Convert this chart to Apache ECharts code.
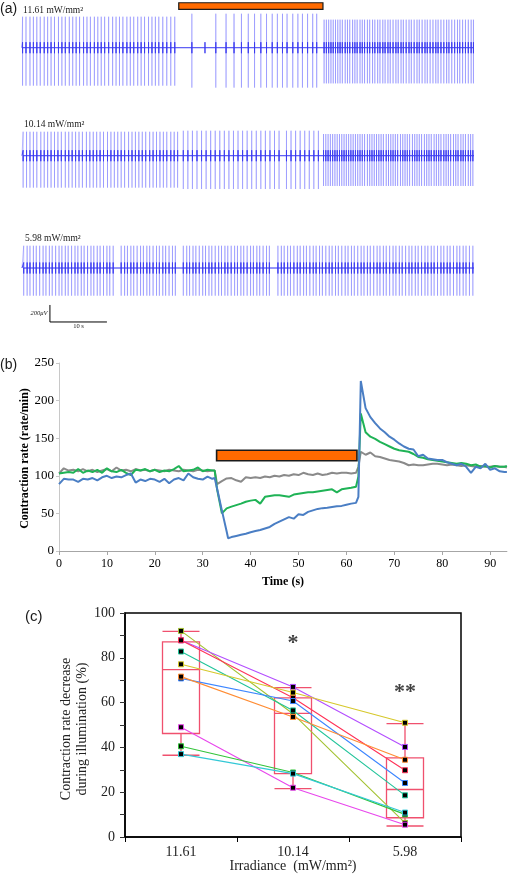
<!DOCTYPE html>
<html><head><meta charset="utf-8">
<script src="https://cdn.jsdelivr.net/npm/echarts@6/dist/echarts.min.js"></script>
<style>html,body{margin:0;padding:0;background:#fff}#c{width:509px;height:874px}</style>
</head><body><div id="c"></div>
<script>
// ================= Panel (a): extracellular recordings =================
const traceLabels = ['11.61 mW/mm²', '10.14 mW/mm²', '5.98 mW/mm²'];
const illumA = [27.5, 52.8];          // illumination window (s) in panel (a)
const illumBarUV = [452, 529];        // orange bar vertical extent (µV above baseline of trace 1)
const traceEnd = 79.3;                // recording length (s)
const scaleBarUV = 200, scaleBarS = 10;
const scaleBarOrigin = [4.9, -435];   // (s, µV) top of the vertical scale bar, trace 3 frame

const trace1Spikes = [0.1,0.7,1.4,2.0,2.6,3.2,3.9,4.5,5.1,5.7,6.4,7.0,7.6,8.3,8.9,9.5,10.1,10.8,11.4,12.0,12.7,13.3,13.9,14.5,15.2,15.9,16.5,17.1,17.7,18.4,19.0,19.6,20.3,20.9,21.5,22.2,22.8,23.4,24.0,24.7,25.4,26.1,26.8,
  29.8,34.0,35.8,37.2,38.5,39.7,40.8,41.9,42.9,43.9,44.8,45.7,46.5,47.5,48.4,49.2,50.1,51.0,51.7,
  53.0,53.4,53.8,54.2,54.6,55.0,55.4,55.8,56.2,56.7,57.1,57.5,58.0,58.4,58.8,59.3,59.7,60.1,60.6,61.0,61.5,61.9,62.4,62.8,63.3,63.7,64.2,64.6,65.1,65.6,66.0,66.5,66.9,67.4,67.9,68.3,68.8,69.3,69.7,70.2,70.7,71.1,71.6,72.1,72.6,73.0,73.5,74.0,74.5,74.9,75.4,75.9,76.4,76.8,77.3,77.8,78.3,78.8,79.2];
const trace1Minor = [32.1];
const trace2Spikes = [0.2,0.8,1.4,2.0,2.6,3.3,3.9,4.5,5.1,5.7,6.3,6.9,7.6,8.2,8.8,9.4,10.0,10.6,11.3,11.9,12.5,13.1,13.7,14.3,15.0,15.6,16.2,16.8,17.4,18.0,18.7,19.3,19.9,20.5,21.1,21.7,22.4,23.0,23.6,24.2,24.8,25.4,26.1,26.7,27.3,
  28.3,29.1,29.9,30.7,31.5,32.3,33.1,33.9,34.7,35.5,36.3,37.1,37.9,38.7,39.5,40.3,41.1,41.9,42.7,43.5,44.3,45.1,46.4,47.2,48.0,48.8,49.6,50.4,51.2,52.0,
  52.9,53.3,53.7,54.1,54.5,54.9,55.3,55.7,56.1,56.5,56.9,57.3,57.7,58.1,58.5,58.9,59.3,59.7,60.1,60.6,61.0,61.4,61.8,62.2,62.6,63.0,63.4,63.9,64.3,64.7,65.1,65.5,65.9,66.4,66.8,67.2,67.6,68.0,68.5,68.9,69.3,69.7,70.1,70.6,71.0,71.4,71.8,72.3,72.7,73.1,73.5,74.0,74.4,74.8,75.2,75.7,76.1,76.5,77.0,77.4,77.8,78.3,78.7,79.1];
const trace3Spikes = [0.3,0.9,1.4,2.0,2.5,3.1,3.7,4.2,4.8,5.3,5.9,6.5,7.0,7.6,8.1,8.7,9.3,9.8,10.4,10.9,11.5,12.1,12.6,13.2,13.7,14.3,14.9,15.4,16.0,17.4,18.0,18.5,19.1,19.6,20.2,20.8,21.3,21.9,22.4,23.0,23.6,24.1,24.7,25.2,25.8,26.4,26.9,28.3,28.9,29.4,30.0,30.5,31.1,31.7,32.2,32.8,33.3,33.9,34.5,35.0,35.6,36.1,36.7,37.3,37.8,38.4,38.9,39.5,40.1,40.6,41.2,41.7,42.3,42.9,43.4,44.9,45.5,46.0,46.6,47.1,47.7,48.3,48.8,49.4,49.9,50.5,51.1,51.6,52.2,52.7,53.3,53.9,54.4,55.0,55.5,56.1,56.7,57.2,57.8,58.3,58.9,59.5,60.0,60.6,61.1,61.7,62.3,62.8,63.4,63.9,64.5,65.1,65.6,66.2,66.7,67.3,67.9,68.4,69.0,69.5,70.1,70.7,71.2,71.8,72.3,72.9,73.5,74.0,74.6,75.1,75.7,76.3,76.8,77.4,77.9,78.5,79.1];
// spike amplitudes (µV) before / during / after illumination
const trace1Up = [365, 400, 330], trace1Down = [447, 470, 420];
const trace2Up = [282, 294, 255], trace2Down = [376, 392, 356];
const trace3Up = [262, 262, 262], trace3Down = [326, 326, 326];
const coreAmp = 65;

// ================= Panel (b): contraction rate =================
const bTime  = [0,1,2,3,4,5,6,7,8,9,10,11,12,13,14,15,16,17,18,19,20,21,22,23,24,25,26,27,28,29,30,31,32,32.5,33,34,35,35.3,36,37,38,39,40,41,42,43,44,45,46,47,48,49,50,51,52,53,54,55,56,57,58,59,60,61,62,62.5,63,64,65,66,67,68,69,70,71,72,73,74,75,76,77,78,79,80,81,82,83,84,85,86,87,88,89,90,91,92,93,93.5];
const bBlue  = [89,96,95,95,92,96,95,97,94,98,100,97,99,98,101,103,91,95,93,96,95,92,96,90,95,97,94,103,98,96,95,99,96,97,83,54,26,17,18.5,20,21.5,23,25,26.5,28,30,32,36,39,42,45,43,49,48,52,54,56,57,57.5,58.5,59.5,60,61.5,63,64,72,226,190,178,170,163,158,152,148,143,139,136,135,126,128,123,122,121,121,118,116,114,116,112,104,112,110,116,108,110,106,105,105];
const bGreen = [103,104,105,104,109,104,107,105,108,104,110,106,105,108,104,101,108,107,109,106,108,105,107,106,109,113,106,107,108,111,106,108,107,107,82,50,56.7,57,59,61,63,65.5,67,68,63,72,73,74,74,73,72,75,76,77,78,78,79,80,81,82,78,82,83,84,85.5,99,183,158,152,149,145,142,139,136,134,133,132,129,125,124,122,121,120,119,118,117,116,117,116,114,115,112,113,111,113,112,112,113];
const bGray  = [103,110,107,108,106,109,106,108,105,107,109,106,111,107,108,106,109,107,108,106,108,107,106,108,107,106,108,107,106,108,107,106,107,107,89,93,96.5,96,97,94,92,98,97,98,97,99,98,100,99,101,100,102,101,104,102,101,103,101,102,104,103,104,104,103,104,112,132,128,131,126,125,123,121,120,119,117,114,115,114,114,115,116,116,115,114,115,114,113,114,113,112,113,112,112,113,112,112,111];
const bIllum = [32.9, 62.2];
const bBarY  = [120, 134];

// ================= Panel (c): contraction decrease =================
const cCats = ['11.61', '10.14', '5.98'];
const cBox = [ // [min, Q1, median, Q3, max]
  [36.5, 46.2, 74.7, 87.1, 91.8],
  [21.6, 28.3, 55.2, 62.1, 66.7],
  [4.9, 8.6, 21.2, 35.3, 50.6]
];
const subjOlive   = [92.0, 55.0, 6.3];
const subjPurple  = [87.8, 67.0, 40.2];
const subjRed     = [87.8, 62.2, 29.8];
const subjTeal    = [82.8, 56.5, 18.6];
const subjYellow  = [77.1, 64.5, 51.0];
const subjBlue    = [70.8, 60.7, 24.1];
const subjOrange  = [71.6, 53.6, 34.5];
const subjMagenta = [49.0, 22.0, 5.5];
const subjGreen   = [40.5, 28.8, 10.1];
const subjCyan    = [37.0, 28.3, 10.9];
const cSig = ['', '*', '**'];
const cSigY = [0, 86.5, 64.8];

// ---------------------------------------------------------------
const SERIF = "'Liberation Serif','Times New Roman',serif";
const SANS = "'Liberation Sans',Arial,sans-serif";
const chart = echarts.init(document.getElementById('c'), null, {renderer: 'canvas'});

const A_PXUV = 0.085;
const aGeom = [{base: 47.7, top: 0, h: 100}, {base: 155.7, top: 115, h: 90}, {base: 268, top: 225, h: 105}];

function segOf(t) { return t < illumA[0] ? 0 : (t < illumA[1] ? 1 : 2); }
function spikeData(times, up, down) {
  const d = [[0, 0]];
  times.forEach(t => { const s = segOf(t); d.push([t, 0], [t, up[s]], [t, -down[s]], [t, 0]); });
  d.push([traceEnd, 0]);
  return d;
}
function coreData(times) {
  const d = [[0, 0]];
  times.slice().sort((a, b) => a - b).forEach(t => { d.push([t, 0], [t, coreAmp], [t, -coreAmp], [t, 0]); });
  d.push([traceEnd, 0]);
  return d;
}

const grids = aGeom.map(g => ({left: 22, top: g.top, width: 456, height: g.h, outerBoundsMode: 'none'}));
grids.push({left: 59, top: 363, width: 447.9, height: 188, outerBoundsMode: 'none'});
grids.push({left: 125, top: 613, width: 336, height: 224, show: true, borderColor: '#000', borderWidth: 1.5, backgroundColor: 'transparent', outerBoundsMode: 'none'});

const xAxes = aGeom.map((g, i) => ({type: 'value', gridIndex: i, min: 0, max: 80, show: false}));
const yAxes = aGeom.map((g, i) => ({type: 'value', gridIndex: i, show: false,
  max: (g.base - g.top) / A_PXUV, min: -(g.top + g.h - g.base) / A_PXUV}));

xAxes.push({type: 'value', gridIndex: 3, min: 0, max: 93.5,
  axisLine: {lineStyle: {color: '#a6a6a6', width: 1}},
  axisTick: {show: true, length: 4, lineStyle: {color: '#a6a6a6'}, customValues: [0,10,20,30,40,50,60,70,80,90]},
  axisLabel: {fontFamily: SERIF, fontSize: 12, color: '#000', margin: 7, customValues: [0,10,20,30,40,50,60,70,80,90]},
  splitLine: {show: false}});
yAxes.push({type: 'value', gridIndex: 3, min: 0, max: 250, interval: 50,
  axisLine: {show: true, lineStyle: {color: '#c8c8c8', width: 1}},
  axisTick: {show: true, length: 3, lineStyle: {color: '#c8c8c8'}},
  axisLabel: {fontFamily: SERIF, fontSize: 13, color: '#000', margin: 5},
  splitLine: {show: false}});

xAxes.push({type: 'category', gridIndex: 4, data: cCats, boundaryGap: true,
  axisLine: {lineStyle: {color: '#000', width: 1.5}},
  axisTick: {show: true, length: 5, lineStyle: {color: '#000'}},
  axisLabel: {fontFamily: SERIF, fontSize: 14, color: '#222', margin: 8}});
yAxes.push({type: 'value', gridIndex: 4, min: 0, max: 100, interval: 20,
  axisLine: {show: true, lineStyle: {color: '#000', width: 1.5}},
  axisTick: {show: true, length: 5, lineStyle: {color: '#333'}},
  minorTick: {show: true, splitNumber: 2, length: 5, lineStyle: {color: '#333'}},
  axisLabel: {fontFamily: SERIF, fontSize: 14, color: '#222', margin: 10},
  splitLine: {show: false}});

const series = [];
const traces = [[trace1Spikes, trace1Up, trace1Down, trace1Minor], [trace2Spikes, trace2Up, trace2Down, []], [trace3Spikes, trace3Up, trace3Down, []]];
traces.forEach((tr, i) => {
  series.push({type: 'line', xAxisIndex: i, yAxisIndex: i, data: spikeData(tr[0], tr[1], tr[2]),
    showSymbol: false, symbol: 'none', lineStyle: {color: 'rgba(95,95,255,0.42)', width: 0.9}, z: 2, silent: true});
  const core = {type: 'line', xAxisIndex: i, yAxisIndex: i, data: coreData(tr[0].concat(tr[3])),
    showSymbol: false, symbol: 'none', lineStyle: {color: '#3a3af0', width: 0.9}, z: 3, silent: true};
  if (i === 0) {
    core.markArea = {silent: true, itemStyle: {color: '#ff6a00', borderColor: '#1a1a1a', borderWidth: 1.2},
      data: [[{coord: [illumA[0], illumBarUV[0]]}, {coord: [illumA[1], illumBarUV[1]]}]]};
  }
  series.push(core);
});
// scale bar (trace 3 frame)
series.push({type: 'line', xAxisIndex: 2, yAxisIndex: 2, showSymbol: false, symbol: 'none',
  data: [[scaleBarOrigin[0], scaleBarOrigin[1]], [scaleBarOrigin[0], scaleBarOrigin[1] - scaleBarUV], [scaleBarOrigin[0] + scaleBarS, scaleBarOrigin[1] - scaleBarUV]],
  lineStyle: {color: '#000', width: 1}, silent: true});

// panel (b)
const bCols = {blue: '#4a7ec4', green: '#1fb356', gray: '#8a8a8a'};
[['gray', bGray], ['green', bGreen], ['blue', bBlue]].forEach(([k, arr]) => {
  const s = {type: 'line', xAxisIndex: 3, yAxisIndex: 3, showSymbol: false, symbol: 'none',
    data: bTime.map((t, j) => [t, arr[j]]), lineStyle: {color: bCols[k], width: 2}, z: 3, silent: true};
  if (k === 'gray') {
    s.markArea = {silent: true, itemStyle: {color: '#ff6a00', borderColor: '#1a1a1a', borderWidth: 1.6},
      data: [[{coord: [bIllum[0], bBarY[0]]}, {coord: [bIllum[1], bBarY[1]]}]]};
  }
  series.push(s);
});

// panel (c)
series.push({type: 'boxplot', xAxisIndex: 4, yAxisIndex: 4, data: cBox, boxWidth: [37, 37],
  itemStyle: {color: 'rgba(0,0,0,0)', borderColor: '#f0506e', borderWidth: 1.3}, z: 1, silent: true});
const subj = [[subjOlive, '#a3c232'], [subjPurple, '#b34dff'], [subjRed, '#ff3358'], [subjTeal, '#22c49a'],
  [subjYellow, '#d6c82a'], [subjBlue, '#3d86ff'], [subjOrange, '#ff8c33'], [subjMagenta, '#e846ec'],
  [subjGreen, '#33c43a'], [subjCyan, '#33c8d6']];
subj.forEach(([vals, col]) => {
  series.push({type: 'line', xAxisIndex: 4, yAxisIndex: 4, data: vals, symbol: 'rect', symbolSize: 5, showSymbol: true,
    itemStyle: {color: '#000', borderColor: col, borderWidth: 1}, lineStyle: {color: col, width: 1.1}, z: 3, silent: true});
});
series.push({type: 'scatter', xAxisIndex: 4, yAxisIndex: 4, symbolSize: 0,
  data: cSig.map((s, i) => [i, cSigY[i]]),
  label: {show: true, position: 'inside', fontFamily: SERIF, fontSize: 22, fontWeight: 'bold', color: '#111',
    formatter: p => cSig[p.dataIndex]}, z: 4, silent: true});

const txt = (x, y, text, font, extra) => Object.assign({type: 'text', x, y, style: Object.assign({text, font, fill: '#1a1a1a', textAlign: 'left', textVerticalAlign: 'middle'}, extra || {})});
const graphic = [
  txt(0, 9, '(a)', '14px ' + SANS),
  txt(23, 10, traceLabels[0], '9.5px ' + SERIF),
  txt(24, 124, traceLabels[1], '9.5px ' + SERIF),
  txt(25, 238.5, traceLabels[2], '9.5px ' + SERIF),
  txt(39, 313.5, '200μV', 'italic 6.5px ' + SERIF, {textAlign: 'center'}),
  txt(78.5, 326, '10 s', '6.5px ' + SERIF, {textAlign: 'center'}),
  txt(0, 365, '(b)', '14px ' + SANS),
  {type: 'text', x: 25, y: 458.5, rotation: Math.PI / 2,
    style: {text: 'Contraction rate (rate/min)', font: 'bold 12px ' + SERIF, fill: '#000', textAlign: 'center', textVerticalAlign: 'middle'}},
  txt(283, 582, 'Time (s)', 'bold 12px ' + SERIF, {textAlign: 'center', fill: '#000'}),
  txt(25, 617, '(c)', '15px ' + SANS),
  {type: 'text', x: 74, y: 729, rotation: Math.PI / 2,
    style: {text: 'Contraction rate decrease\nduring illumination (%)', font: '14px ' + SERIF, fill: '#222', textAlign: 'center', textVerticalAlign: 'middle', lineHeight: 16}},
  txt(293, 866, 'Irradiance  (mW/mm²)', '14px ' + SERIF, {textAlign: 'center', fill: '#222'})
];

chart.setOption({animation: false, backgroundColor: '#fff', textStyle: {fontFamily: SERIF},
  grid: grids, xAxis: xAxes, yAxis: yAxes, series, graphic});
</script></body></html>
